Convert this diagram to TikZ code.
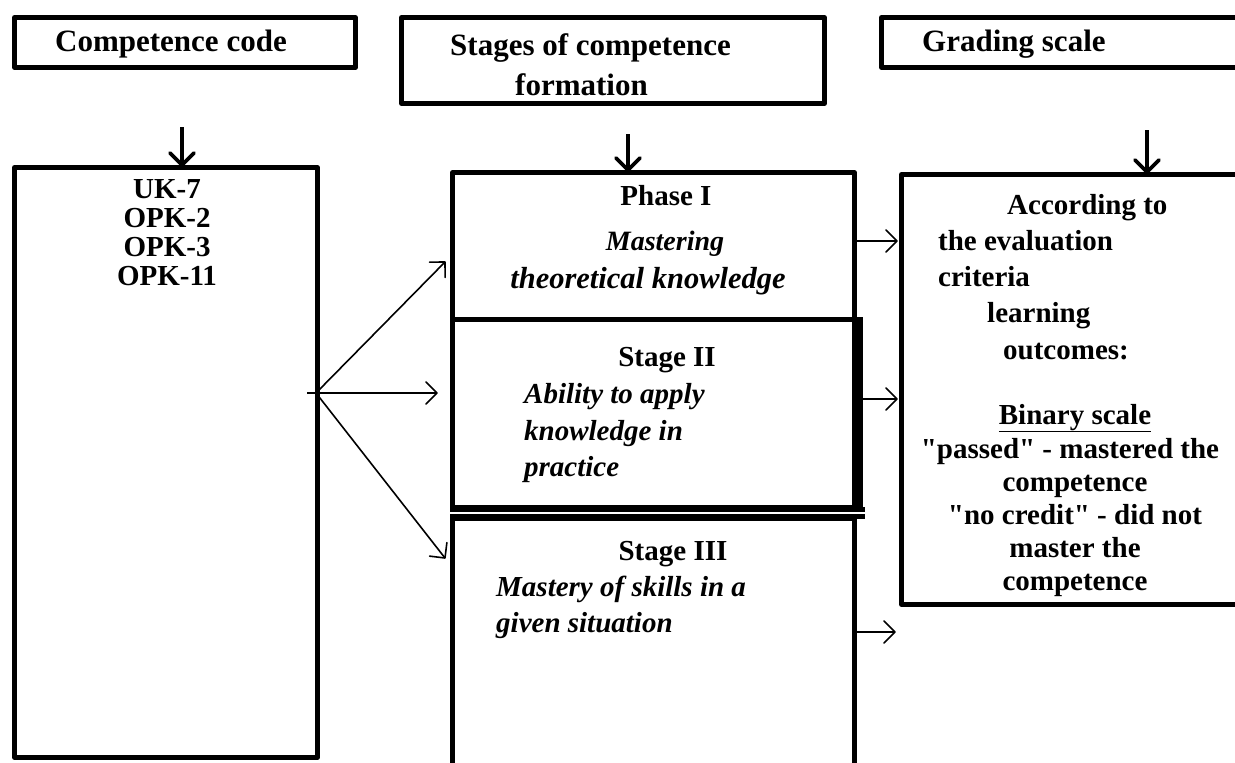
\documentclass[tikz,border=0pt]{standalone}
\usepackage{fontspec}
\setmainfont{Liberation Serif}[Ligatures=TeXOff]
\usetikzlibrary{arrows.meta}
\pgfdeclarearrow{
  name=MyVee,
  parameters={\the\pgfarrowlength,\the\pgfarrowwidth},
  setup code={
    \pgfarrowssettipend{0pt}
    \pgfarrowssetlineend{-1pt}
    \pgfarrowsupperhullpoint{-\pgfarrowlength}{.5\pgfarrowwidth}
    \pgfarrowsupperhullpoint{0pt}{0pt}
    \pgfarrowssavethe\pgfarrowlength
    \pgfarrowssavethe\pgfarrowwidth
  },
  drawing code={
    \pgfsetdash{}{0pt}\pgfsetroundjoin\pgfsetroundcap
    \pgfpathmoveto{\pgfqpoint{-\pgfarrowlength}{.5\pgfarrowwidth}}
    \pgfpathlineto{\pgfpointorigin}
    \pgfpathlineto{\pgfqpoint{-\pgfarrowlength}{-.5\pgfarrowwidth}}
    \pgfusepathqstroke
  },
  defaults={length=8pt,width=20pt}
}
\begin{document}
\begin{tikzpicture}[x=1pt,y=-1pt,
  frame/.style={draw, line width=4.8pt, line join=round, inner sep=0, anchor=north west},
  hd/.style={inner sep=0, anchor=base west, font=\bfseries\fontsize{31}{34}\selectfont},
  lbl/.style={inner sep=0, anchor=base west, font=\bfseries\fontsize{29}{33}\selectfont},
  clbl/.style={inner sep=0, anchor=base, font=\bfseries\fontsize{29}{33}\selectfont},
  ilbl/.style={inner sep=0, anchor=base west, font=\bfseries\itshape\fontsize{29}{33}\selectfont},
  down/.style={line width=3.8pt, -{MyVee[length=12pt,width=24pt]}},
  thinarr/.style={line width=1.6pt, -{MyVee[length=11pt,width=22pt]}},
]
\useasboundingbox (0,0) rectangle (1235,763);
\clip (0,0) rectangle (1235,763);

% header boxes
\node[frame, minimum width=341pt, minimum height=50pt] (h1) at (12,15) {};
\node[frame, minimum width=423pt, minimum height=86pt] (h2) at (399,15) {};
\node[frame, minimum width=420pt, minimum height=50pt] (h3) at (879,15) {};
\node[hd] (h1t) at (55,51) {Competence code};
\node[hd] (h2t1) at (450,55) {Stages of competence};
\node[hd] (h2t2) at (515,95) {formation};
\node[hd] (h3t) at (922,51) {Grading scale};

% main boxes
\node[frame, minimum width=303pt, minimum height=590pt] (code) at (12,165) {};
\node[frame, minimum width=402pt, minimum height=147pt] (p1) at (450,170) {};
\node[frame, minimum width=402pt, minimum height=188pt] (p2) at (450,317) {};
\node[frame, minimum width=402pt, minimum height=300pt] (p3) at (450,516) {};
\node[frame, minimum width=420pt, minimum height=430pt] (rb) at (899,172) {};

% thick right edge of stage II and double line
\draw[line width=10pt] (p2.north east) ++(1,0) coordinate (p2a) -- (p2a |- p2.south);
\draw[line width=5pt] (p2.south west) -- ++(415,0) coordinate (dl1);
\draw[line width=5pt] (p3.north west) -- ++(415,0) coordinate (dl2);

% texts
\node[clbl] (c1) at (167,198) {UK-7};
\node[clbl] (c2) at (167,227) {OPK-2};
\node[clbl] (c3) at (167,256) {OPK-3};
\node[clbl] (c4) at (167,285) {OPK-11};

\node[clbl] (s1a) at (666,205) {Phase I};
\node[clbl, font=\bfseries\itshape\fontsize{28}{33}\selectfont] (s1b) at (665,250) {Mastering};
\node[clbl, font=\bfseries\itshape\fontsize{30.5}{33}\selectfont] (s1c) at (648,288) {theoretical knowledge};

\node[clbl] (s2a) at (667,366) {Stage II};
\node[ilbl] (s2b) at (524,403) {Ability to apply};
\node[ilbl] (s2c) at (524,440) {knowledge in};
\node[ilbl] (s2d) at (524,476) {practice};

\node[clbl] (s3a) at (673,560) {Stage III};
\node[ilbl] (s3b) at (496,596) {Mastery of skills in a};
\node[ilbl] (s3c) at (496,632) {given situation};

\node[lbl] (r1) at (1007,214) {According to};
\node[lbl] (r2) at (938,250) {the evaluation};
\node[lbl] (r3) at (938,286) {criteria};
\node[lbl] (r4) at (987,322) {learning};
\node[lbl] (r5) at (1003,359) {outcomes:};
\node[clbl] (r6) at (1075,424) {\underline{Binary scale}};
\node[clbl] (r7) at (1070,458) {"passed" - mastered the};
\node[clbl] (r8) at (1075,491) {competence};
\node[clbl] (r9) at (1075,524) {"no credit" - did not};
\node[clbl] (r10) at (1075,557) {master the};
\node[clbl] (r11) at (1075,590) {competence};

% down arrows
\coordinate (d1) at (182,127);
\coordinate (d2) at (628,134);
\coordinate (d3) at (1147,130);
\draw[down] (d1) -- (d1 |- code.north);
\draw[down] (d2) -- (d2 |- p1.north);
\draw[down] (d3) -- (d3 |- rb.north);

% fan arrows
\coordinate (j) at (316,393);
\coordinate (j0) at (307,393);
\coordinate (t1) at (445,262);
\coordinate (t2) at (437,393);
\coordinate (t3) at (445,558);
\draw[thinarr] (j) -- (t1);
\draw[thinarr] (j0) -- (t2);
\draw[thinarr] (j) -- (t3);

% right arrows
\coordinate (e1) at (897,241);
\coordinate (e2) at (897,399);
\coordinate (e3) at (895,632);
\draw[thinarr] (e1 -| p1.east) -- (e1);
\draw[thinarr] (e2 -| p2a) -- (e2);
\draw[thinarr] (e3 -| p3.east) -- (e3);
\end{tikzpicture}
\end{document}
